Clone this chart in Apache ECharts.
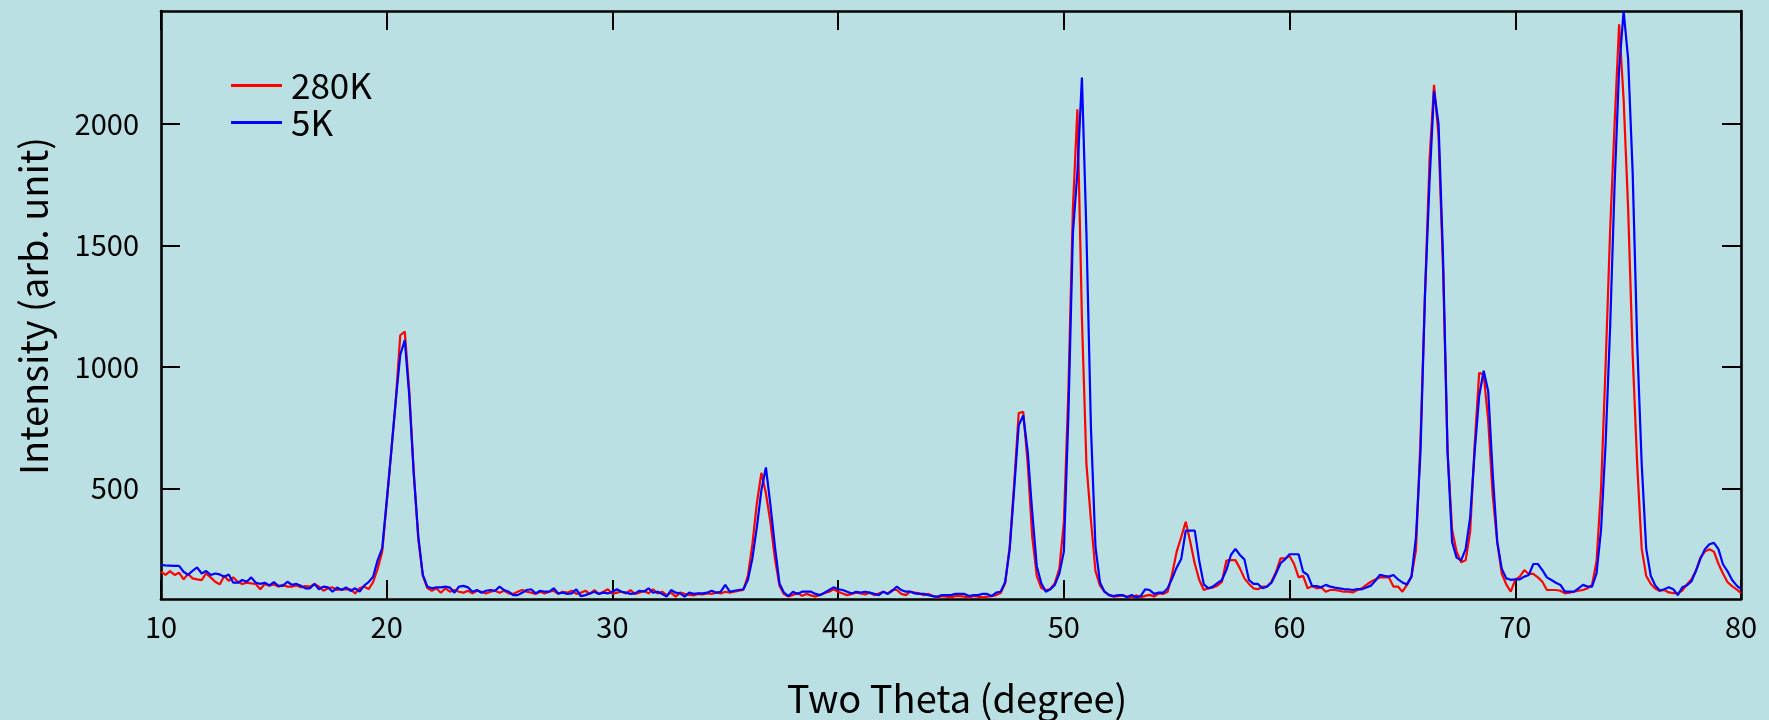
<!DOCTYPE html>
<html>
<head>
<meta charset="utf-8">
<script src="https://cdn.jsdelivr.net/npm/echarts@6/dist/echarts.min.js"></script>
<style>
html,body{margin:0;padding:0;background:#bae0e3;}
#chart{width:1769px;height:720px;}
</style>
</head>
<body>
<div id="chart"></div>
<script>
// Sampling grid of the diffraction scans (degrees two-theta)
const thetaStart = 10;
const thetaStep = 0.2;

// 280K scan, one group per whole degree (x.0, x.2, x.4, x.6, x.8)
const intensity280K = [
157,144,160,144,153, 126,148,130,126,123, 150,134,116,105,140, 120,134,116,107,112,
109,107,85,107,100, 105,96,103,96,96, 101,93,98,96,107, 96,79,89,93,82,
85,85,85,68,89, 96,86,115,170,240, 440,650,860,1130,1145, 900,560,290,140,90,
79,89,71,89,75, 82,75,71,79,68, 79,75,68,75,79, 71,79,68,66,75,
82,75,71,66,75, 68,75,79,66,75, 71,79,66,71,79, 66,82,66,75,85,
66,71,75,68,82, 66,71,79,68,85, 68,75,61,71,55, 71,66,62,60,66,
64,68,66,71,68, 75,71,75,79,82, 140,270,440,564,480, 360,210,100,65,55,
62,70,58,66,60, 55,62,70,75,85, 75,68,61,66,71, 68,64,71,61,68,
75,68,82,82,66, 61,75,71,68,61, 66,57,50,57,55, 52,57,57,55,50,
57,55,52,55,57, 61,70,110,260,520, 810,815,600,300,140, 90,82,85,110,170,
360,900,1650,2060,1200, 600,370,160,100,75, 62,55,57,60,55, 50,60,52,58,62,
55,68,66,75,150, 240,300,363,280,190, 123,82,89,92,100, 115,203,205,205,171,
130,107,89,85,96, 96,116,157,212,212, 222,189,134,140,89, 98,89,93,75,82,
82,79,75,75,72, 82,89,103,116,125, 134,134,134,96,96, 75,103,137,246,700,
1300,1850,2160,1950,1400, 650,330,240,196,204, 320,680,975,970,780, 470,280,150,105,75,
125,137,164,148,148, 134,116,82,82,82, 79,68,71,75,79, 82,89,103,200,500,
1000,1557,2000,2409,2100, 1650,1050,600,252,140, 108,88,78,82,72, 69,69,80,105,125,
160,215,240,250,240, 190,150,115,98,85,
69
];

// 5K scan, same grid
const intensity5K = [
185,183,182,181,181, 157,144,161,175,150, 160,144,150,146,137, 146,112,112,123,116,
134,112,107,112,101, 114,99,99,116,103, 107,99,89,89,107, 85,96,93,75,92,
82,93,78,89,75, 100,115,137,205,253, 450,650,860,1050,1110, 880,560,301,144,96,
89,93,93,96,92, 71,96,99,93,75, 82,71,79,82,79, 96,82,75,61,61,
71,82,85,68,79, 75,75,89,68,71, 66,68,85,57,61, 68,75,66,71,68,
75,85,75,71,66, 68,79,75,89,71, 75,66,55,82,71, 68,55,71,66,68,
68,71,79,71,75, 103,75,79,82,85, 123,212,342,493,586, 431,260,109,71,57,
75,66,75,75,75, 66,61,71,82,93, 85,82,75,68,75, 71,75,71,66,61,
75,66,79,96,82, 75,75,68,66,66, 61,57,55,61,61, 61,66,66,66,57,
61,61,66,66,57, 71,75,115,250,500, 760,800,650,400,180, 110,75,85,103,150,
240,800,1550,1800,2190, 1550,750,260,113,75, 61,57,61,61,52, 61,52,57,85,82,
66,71,71,89,130, 175,210,326,326,326, 200,105,89,96,110, 123,164,226,251,226,
208,123,107,107,89, 96,112,150,192,208, 229,229,229,157,144, 98,98,93,103,96,
92,89,86,85,82, 86,85,92,100,120, 144,140,137,144,126, 113,105,137,300,650,
1300,1760,2135,2000,1450, 650,280,215,204,250, 380,650,880,984,900, 560,280,170,130,124,
126,126,137,144,189, 189,164,134,123,112, 103,75,75,75,89, 103,96,96,150,330,
682,1159,1750,2226,2464, 2266,1800,1100,602,252, 141,101,80,85,93, 85,61,93,101,117,
160,210,250,270,276, 250,188,160,124,101,
85
];

const seriesNames = ['280K', '5K'];
const seriesColors = ['#ff0000', '#0000ff'];
const xRange = [10, 80];
const xTickStep = 10;
const yRange = [45, 2464];
const yTickValues = [500, 1000, 1500, 2000];
const xTitle = 'Two Theta (degree)';
const yTitle = 'Intensity (arb. unit)';

function toPairs(arr) {
  return arr.map((v, i) => [+(thetaStart + i * thetaStep).toFixed(2), v]);
}

const FONT = '"Noto Sans CJK JP", "DejaVu Sans Condensed", sans-serif';
const axisColor = '#000';
const axisLineW = 2.6;
const tickLen = 19;

const chart = echarts.init(document.getElementById('chart'), null, {renderer: 'canvas'});

const xCommon = {
  type: 'value', min: xRange[0], max: xRange[1], interval: xTickStep,
  axisLine: {show: true, onZero: false, lineStyle: {color: axisColor, width: axisLineW}},
  axisTick: {show: true, inside: true, length: tickLen, lineStyle: {color: axisColor, width: 2}},
  splitLine: {show: false}
};
const yCommon = {
  type: 'value', min: yRange[0], max: yRange[1],
  axisLine: {show: true, onZero: false, lineStyle: {color: axisColor, width: axisLineW}},
  axisTick: {show: true, inside: true, length: tickLen, customValues: yTickValues, lineStyle: {color: axisColor, width: 2}},
  splitLine: {show: false}
};

chart.setOption({
  backgroundColor: '#bae0e3',
  animation: false,
  grid: {left: 161, right: 28, top: 11, bottom: 121, containLabel: false},
  xAxis: [
    Object.assign({}, xCommon, {
      position: 'bottom',
      axisLabel: {show: true, margin: 13, color: '#000', fontFamily: FONT, fontSize: 29,
                  showMinLabel: true, showMaxLabel: true, formatter: v => String(v)}
    }),
    Object.assign({}, xCommon, {position: 'top', axisLabel: {show: false}})
  ],
  yAxis: [
    Object.assign({}, yCommon, {
      position: 'left',
      axisLabel: {show: true, margin: 22, color: '#000', fontFamily: FONT, fontSize: 29,
                  customValues: yTickValues, formatter: v => String(v)}
    }),
    Object.assign({}, yCommon, {position: 'right', axisLabel: {show: false}})
  ],
  legend: {
    show: true, orient: 'vertical', left: 231, top: 68, padding: 0,
    icon: 'rect', itemWidth: 51, itemHeight: 3, itemGap: 2,
    textStyle: {color: '#000', fontFamily: FONT, fontSize: 35, padding: [0, 0, 0, 4]},
    data: seriesNames.map(n => ({name: n}))
  },
  series: [
    {name: seriesNames[0], type: 'line', data: toPairs(intensity280K), symbol: 'none', showSymbol: false,
     lineStyle: {color: seriesColors[0], width: 2.2}, itemStyle: {color: seriesColors[0]}, z: 2, clip: true},
    {name: seriesNames[1], type: 'line', data: toPairs(intensity5K), symbol: 'none', showSymbol: false,
     lineStyle: {color: seriesColors[1], width: 2.2}, itemStyle: {color: seriesColors[1]}, z: 3, clip: true}
  ],
  graphic: [
    {type: 'text', x: 957, y: 699, style: {text: xTitle, fill: '#000', font: '38px ' + FONT, align: 'center', verticalAlign: 'middle'}},
    {type: 'text', x: 34, y: 306, rotation: Math.PI / 2, style: {text: yTitle, fill: '#000', font: '38px ' + FONT, align: 'center', verticalAlign: 'middle'}}
  ]
});
</script>
</body>
</html>
